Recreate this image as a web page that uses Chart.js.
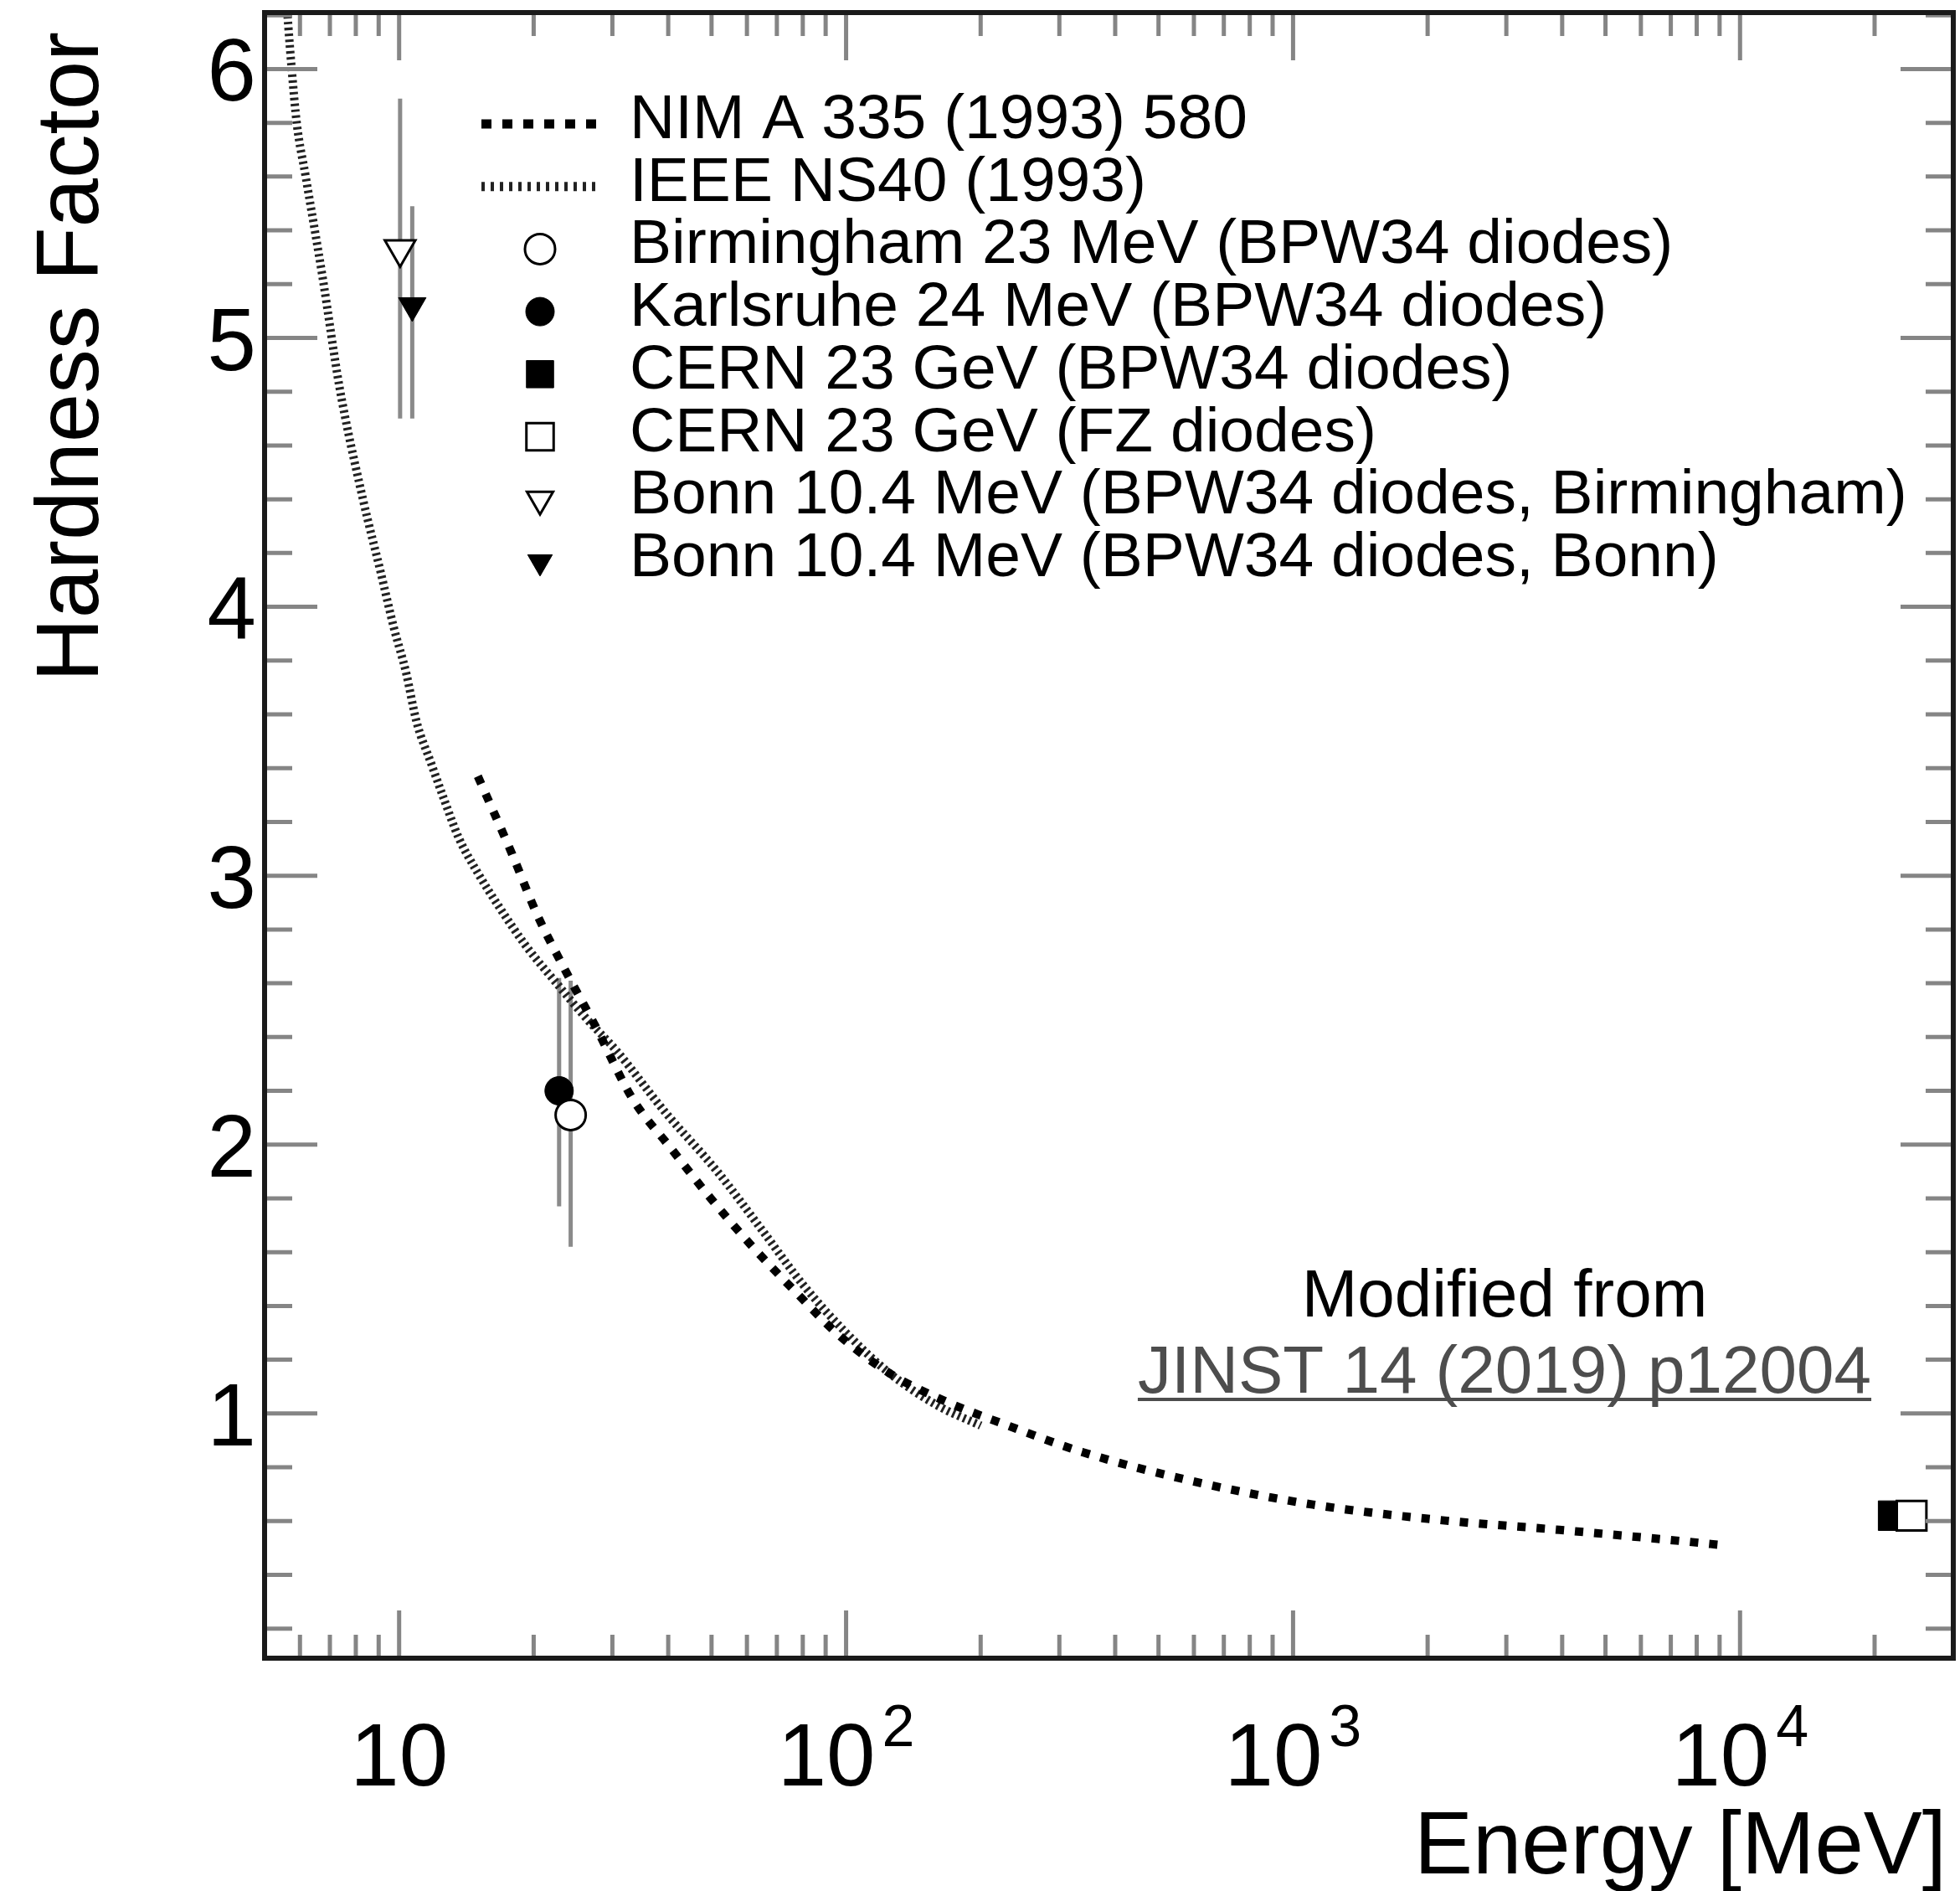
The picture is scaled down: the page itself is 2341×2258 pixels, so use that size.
<!DOCTYPE html>
<html>
<head>
<meta charset="utf-8">
<script src="https://cdn.jsdelivr.net/npm/chart.js@4.4.1/dist/chart.umd.min.js"></script>
<style>
  html, body { margin: 0; padding: 0; background: #fff; }
  #wrap { width: 2341px; height: 2258px; }
</style>
</head>
<body>
<div id="wrap"><canvas id="c" width="2341" height="2258"></canvas></div>
<script>
// --- curves ---
const nimEnergy   = [15.0, 17.9, 20.3, 23.5, 27.3, 33.3, 40.4, 49.8, 61, 76.8, 96.6, 125, 167, 226, 337, 597, 1109, 2123, 3944, 7350, 9060];
const nimHardness = [3.37, 3.08, 2.86, 2.65, 2.45, 2.17, 1.99, 1.80, 1.63, 1.455, 1.29, 1.15, 1.045, 0.96, 0.857, 0.748, 0.661, 0.604, 0.567, 0.526, 0.511];

const ieeeEnergy   = [5.55, 5.65, 5.75, 5.90, 6.18, 6.75, 7.35, 8.3, 9.09, 9.74, 10.35, 10.95, 11.78, 12.63, 13.6, 15.0, 16.8, 19.2, 22.5, 26.2, 30.6, 39.4, 51.5, 65, 80, 100, 125, 160, 200];
const ieeeHardness = [6.35, 6.16, 6.0, 5.8, 5.6, 5.22, 4.82, 4.40, 4.13, 3.92, 3.76, 3.57, 3.42, 3.28, 3.14, 3.01, 2.88, 2.74, 2.60, 2.47, 2.35, 2.12, 1.90, 1.68, 1.48, 1.30, 1.15, 1.03, 0.955];

// --- measurements ---
const pointLabels = [
  'Birmingham 23 MeV (BPW34 diodes)',
  'Karlsruhe 24 MeV (BPW34 diodes)',
  'CERN 23 GeV (BPW34 diodes)',
  'CERN 23 GeV (FZ diodes)',
  'Bonn 10.4 MeV (BPW34 diodes, Birmingham)',
  'Bonn 10.4 MeV (BPW34 diodes, Bonn)'
];
const pointEnergy   = [24.2, 22.8, 22000, 24200, 10.05, 10.7];
const pointHardness = [2.11, 2.20, 0.62, 0.62, 5.33, 5.12];
const errLow        = [1.62, 1.77, null, null, 4.70, 4.70];
const errHigh       = [2.61, 2.62, null, null, 5.89, 5.49];

const curveLabels = ['NIM A 335 (1993) 580', 'IEEE NS40 (1993)'];

// --- axes ---
const xMin = 5, xMax = 30000;
const yMin = 0.09, yMax = 6.21;
const yTickValues = [1, 2, 3, 4, 5, 6];
const yTickLabels = ['1', '2', '3', '4', '5', '6'];
const xTickValues = [10, 100, 1000, 10000];
const xTickLabels = [['10', ''], ['10', '2'], ['10', '3'], ['10', '4']];
const xTitle = 'Energy [MeV]';
const yTitle = 'Hardness Factor';

const FONT = '"Liberation Sans", Arial, Helvetica, sans-serif';

// marker look per measurement (r = in plot, lr = in legend)
const markerStyle = [
  { style: 'circle',   fill: false, r: 18, lr: 18 },
  { style: 'circle',   fill: true,  r: 17, lr: 17 },
  { style: 'rect',     fill: true,  r: 25, lr: 23 },
  { style: 'rect',     fill: false, r: 25, lr: 23 },
  { style: 'triangle', fill: false, r: 21, lr: 18 },
  { style: 'triangle', fill: true,  r: 19, lr: 17 }
];

function drawMarker(ctx, m, cx, cy, r) {
  ctx.beginPath();
  if (m.style === 'circle') {
    ctx.arc(cx, cy, r, 0, Math.PI * 2);
  } else if (m.style === 'rect') {
    const s = r * Math.SQRT1_2;
    ctx.rect(cx - s, cy - s, 2 * s, 2 * s);
  } else {
    // downward triangle
    ctx.moveTo(cx, cy + r);
    ctx.lineTo(cx - r * 0.866, cy - r / 2);
    ctx.lineTo(cx + r * 0.866, cy - r / 2);
    ctx.closePath();
  }
  ctx.fillStyle = m.fill ? '#000' : '#fff';
  ctx.fill();
  ctx.lineWidth = m.fill ? 1 : 3;
  ctx.strokeStyle = '#000';
  ctx.stroke();
}

const rootStyle = {
  id: 'rootStyle',
  beforeDatasetsDraw(chart) {
    // error bars
    const { ctx, scales: { x, y } } = chart;
    ctx.save();
    ctx.strokeStyle = '#8a8a8a';
    ctx.lineWidth = 5;
    pointEnergy.forEach((e, i) => {
      if (errLow[i] == null) return;
      const px = x.getPixelForValue(e);
      ctx.beginPath();
      ctx.moveTo(px, y.getPixelForValue(errLow[i]));
      ctx.lineTo(px, y.getPixelForValue(errHigh[i]));
      ctx.stroke();
    });
    ctx.restore();
  },
  afterDatasetsDraw(chart) {
    const { ctx, chartArea: a, scales: { x, y } } = chart;
    ctx.save();
    // inward ticks on all four sides
    ctx.strokeStyle = '#858585';
    ctx.lineWidth = 5;
    ctx.beginPath();
    for (let i = 1; i * 0.2 <= yMax + 1e-9; i++) {
      const v = Math.round(i * 2) / 10;
      if (v <= yMin) continue;
      const major = Math.abs(v - Math.round(v)) < 1e-6;
      const len = major ? 63 : 33;
      const py = y.getPixelForValue(v);
      ctx.moveTo(a.left, py); ctx.lineTo(a.left + len, py);
      ctx.moveTo(a.right, py); ctx.lineTo(a.right - len, py);
    }
    for (let d = 0; d <= 4; d++) {
      for (let m = 1; m <= 9; m++) {
        const v = m * Math.pow(10, d);
        if (v <= xMin || v >= xMax) continue;
        const len = m === 1 ? 57 : 28;
        const px = x.getPixelForValue(v);
        ctx.moveTo(px, a.bottom); ctx.lineTo(px, a.bottom - len);
        ctx.moveTo(px, a.top); ctx.lineTo(px, a.top + len);
      }
    }
    ctx.stroke();
    // frame
    ctx.strokeStyle = '#1a1a1a';
    ctx.lineWidth = 6;
    ctx.strokeRect(a.left, a.top, a.right - a.left, a.bottom - a.top);
    ctx.restore();
  },
  afterDraw(chart) {
    const { ctx, chartArea: a, scales: { x, y } } = chart;
    ctx.save();
    ctx.fillStyle = '#000';

    // y tick labels
    ctx.font = '105px ' + FONT;
    ctx.textAlign = 'right';
    ctx.textBaseline = 'alphabetic';
    yTickValues.forEach((v, i) => {
      ctx.fillText(yTickLabels[i], a.left - 10, y.getPixelForValue(v) + 38);
    });

    // x tick labels with exponents
    ctx.textAlign = 'left';
    xTickValues.forEach((v, i) => {
      const [base, exp] = xTickLabels[i];
      ctx.font = '105px ' + FONT;
      const wb = ctx.measureText(base).width;
      ctx.font = '70px ' + FONT;
      const we = exp ? ctx.measureText(exp).width + 8 : 0;
      const x0 = x.getPixelForValue(v) - (wb + we) / 2;
      ctx.font = '105px ' + FONT;
      ctx.fillText(base, x0, a.bottom + 152);
      if (exp) {
        ctx.font = '70px ' + FONT;
        ctx.fillText(exp, x0 + wb + 8, a.bottom + 105);
      }
    });

    // axis titles
    ctx.font = '105px ' + FONT;
    ctx.textAlign = 'right';
    ctx.fillText(xTitle, a.right - 8, a.bottom + 257);
    ctx.save();
    ctx.translate(117, 38);
    ctx.rotate(-Math.PI / 2);
    ctx.fillText(yTitle, 0, 0);
    ctx.restore();

    // legend
    const rowH = 74.7, base0 = 165, textX = 752, symX = 645;
    ctx.font = '75px ' + FONT;
    ctx.textAlign = 'left';
    const labels = curveLabels.concat(pointLabels);
    labels.forEach((t, k) => {
      const bl = base0 + rowH * k;
      const sy = bl - 17;
      ctx.fillStyle = '#000';
      ctx.fillText(t, textX, bl);
      if (k === 0) {
        ctx.save();
        ctx.strokeStyle = '#000'; ctx.lineWidth = 11; ctx.setLineDash([12, 13]);
        ctx.beginPath(); ctx.moveTo(575, sy); ctx.lineTo(714, sy); ctx.stroke();
        ctx.restore();
      } else if (k === 1) {
        ctx.save();
        ctx.strokeStyle = '#222'; ctx.lineWidth = 11; ctx.setLineDash([4, 7]);
        ctx.beginPath(); ctx.moveTo(575, sy); ctx.lineTo(716, sy); ctx.stroke();
        ctx.restore();
      } else {
        const m = markerStyle[k - 2];
        drawMarker(ctx, m, symX, sy, m.lr);
      }
    });

    // note
    ctx.textAlign = 'center';
    ctx.font = '80px ' + FONT;
    ctx.fillStyle = '#000';
    ctx.fillText('Modified from', 1797, 1572);
    ctx.fillStyle = '#4d4d4d';
    const ref = 'JINST 14 (2019) p12004';
    ctx.fillText(ref, 1797, 1663);
    const wr = ctx.measureText(ref).width;
    ctx.fillRect(1797 - wr / 2, 1669, wr, 4);
    ctx.restore();
  }
};

const curveData = (ex, hy) => ex.map((e, i) => ({ x: e, y: hy[i] }));

const datasets = [
  {
    type: 'line', label: curveLabels[0], data: curveData(nimEnergy, nimHardness),
    borderColor: '#000', borderWidth: 10, borderDash: [10, 13], pointRadius: 0,
    fill: false, cubicInterpolationMode: 'monotone', clip: 0, order: 10
  },
  {
    type: 'line', label: curveLabels[1], data: curveData(ieeeEnergy, ieeeHardness),
    borderColor: '#222', borderWidth: 10, borderDash: [3, 4], pointRadius: 0,
    fill: false, cubicInterpolationMode: 'monotone', clip: 0, order: 11
  }
];
pointLabels.forEach((lab, i) => {
  const m = markerStyle[i];
  datasets.push({
    type: 'scatter', label: lab,
    data: [{ x: pointEnergy[i], y: pointHardness[i] }],
    pointStyle: m.style, rotation: m.style === 'triangle' ? 180 : 0,
    pointRadius: m.r, pointHoverRadius: m.r,
    backgroundColor: m.fill ? '#000' : '#fff', borderColor: '#000',
    pointBorderWidth: m.fill ? 1 : 3, borderWidth: m.fill ? 1 : 3,
    order: m.fill ? 5 : 1, clip: false
  });
});

new Chart(document.getElementById('c'), {
  data: { datasets },
  options: {
    responsive: false,
    animation: false,
    events: [],
    devicePixelRatio: 1,
    layout: { autoPadding: false, padding: { left: 316, right: 8, top: 15, bottom: 278 } },
    plugins: { legend: { display: false }, tooltip: { enabled: false } },
    scales: {
      x: { type: 'logarithmic', min: xMin, max: xMax, display: false },
      y: { type: 'linear', min: yMin, max: yMax, display: false }
    }
  },
  plugins: [rootStyle]
});
</script>
</body>
</html>
